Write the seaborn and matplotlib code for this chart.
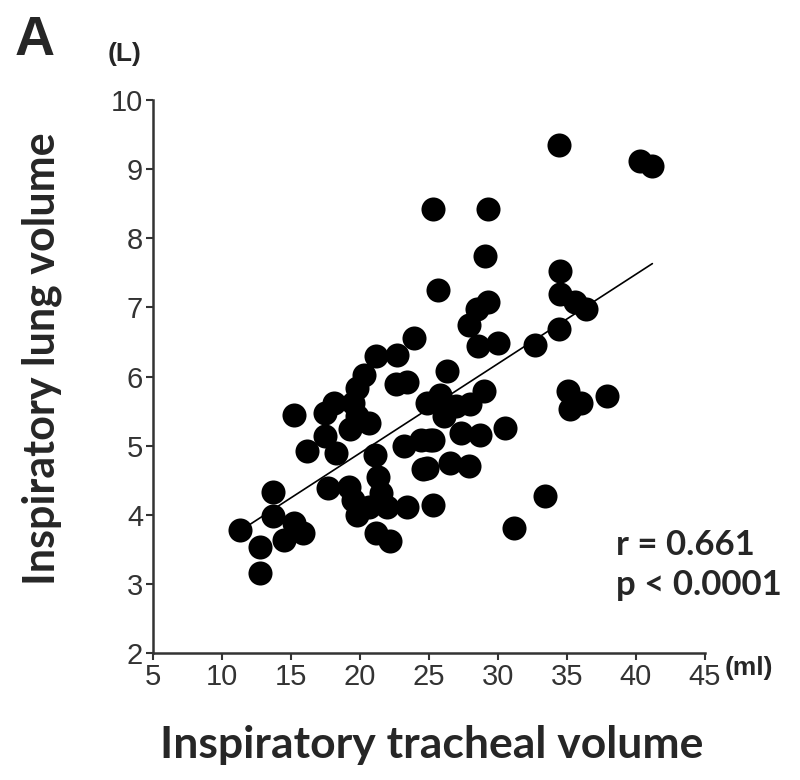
import numpy as np
import pandas as pd
import matplotlib
matplotlib.use('Agg')
import matplotlib.pyplot as plt
import seaborn as sns

# values
tracheal_ml = [11.3, 12.8, 12.8, 13.7, 13.7, 14.5, 15.2, 15.9, 15.2, 16.2,
               17.5, 18.1, 17.5, 18.3, 17.7, 19.2, 19.5, 19.8, 19.3, 19.8,
               20.7, 19.5, 19.8, 20.3, 21.2, 22.7, 23.9, 22.6, 23.4, 21.1,
               21.3, 21.5, 20.7, 22.0, 23.4, 21.2, 22.2, 23.2, 24.4, 25.3,
               24.9, 26.5, 27.9, 25.3, 24.9, 25.8, 26.1, 27.0, 28.0, 27.3,
               28.7, 30.5, 29.0, 26.3, 25.7, 25.3, 29.3, 29.1, 29.3, 28.5,
               27.9, 28.6, 30.0, 32.7, 34.4, 34.5, 34.5, 35.6, 36.4, 34.4,
               40.3, 41.2, 35.1, 36.0, 35.2, 37.9, 33.4, 31.2, 25.1, 24.6]
lung_l = [3.78, 3.16, 3.54, 4.33, 3.98, 3.64, 3.88, 3.74, 5.45, 4.92,
          5.48, 5.62, 5.14, 4.90, 4.39, 4.41, 4.22, 4.00, 5.24, 5.43,
          5.33, 5.62, 5.84, 6.03, 6.30, 6.31, 6.56, 5.89, 5.92, 4.86,
          4.55, 4.32, 4.12, 4.12, 4.12, 3.74, 3.62, 5.00, 5.09, 5.09,
          4.68, 4.75, 4.71, 4.15, 5.62, 5.74, 5.43, 5.57, 5.60, 5.19,
          5.16, 5.26, 5.79, 6.08, 7.25, 8.42, 8.42, 7.75, 7.08, 6.97,
          6.74, 6.44, 6.49, 6.45, 6.69, 7.52, 7.19, 7.08, 6.97, 9.35,
          9.12, 9.05, 5.79, 5.62, 5.53, 5.72, 4.27, 3.81, 5.09, 4.66]

x_ticks = [5, 10, 15, 20, 25, 30, 35, 40, 45]
y_ticks = [2, 3, 4, 5, 6, 7, 8, 9, 10]

df = pd.DataFrame({'tracheal': tracheal_ml, 'lung': lung_l})

sns.set_style('ticks')
plt.rcParams['font.family'] = ['Liberation Sans', 'DejaVu Sans']

fig = plt.figure(figsize=(8, 7.8), dpi=100)
ax = fig.add_axes([0.191, 0.1624, 0.690, 0.7096])

sns.regplot(data=df, x='tracheal', y='lung', ax=ax, ci=None,
            scatter_kws={'s': 300, 'color': 'black', 'alpha': 1, 'linewidths': 0},
            line_kws={'color': 'black', 'lw': 1.2})

ax.set_xlim(5, 45)
ax.set_ylim(2, 10)
ax.set_xticks(x_ticks)
ax.set_yticks(y_ticks)
tick_font = ['Liberation Sans Narrow', 'Liberation Sans', 'DejaVu Sans']
ax.set_xticklabels([str(t) for t in x_ticks], family=tick_font, fontsize=21, color='#333333')
ax.set_yticklabels([str(t) for t in y_ticks], family=tick_font, fontsize=21, color='#333333')
ax.tick_params(axis='both', length=5, width=1.5, color='#333333', pad=2)
ax.set_xlabel('')
ax.set_ylabel('')
sns.despine(ax=ax)
for s in ['left', 'bottom']:
    ax.spines[s].set_linewidth(1.8)
    ax.spines[s].set_color('#333333')

label_font = ['Lato', 'DejaVu Sans']
fig.text(0.54, 0.045, 'Inspiratory tracheal volume', family=label_font, fontweight='bold',
         fontsize=32, ha='center', va='center')
fig.text(0.052, 0.54, 'Inspiratory lung volume', family=label_font, fontweight='bold',
         fontsize=31, ha='center', va='center', rotation=90)

fig.text(0.043, 0.948, 'A', fontsize=40, fontweight='bold', ha='center', va='center')
fig.text(0.156, 0.931, '(L)', fontsize=19, fontweight='bold', ha='center', va='center')
fig.text(0.936, 0.143, '(ml)', fontsize=19, fontweight='bold', ha='center', va='center')

fig.text(0.77, 0.301, 'r = 0.661', family=label_font,
         fontweight='bold', fontsize=25, ha='left', va='center')
fig.text(0.77, 0.25, 'p < 0.0001', family=label_font,
         fontweight='bold', fontsize=25, ha='left', va='center')

fig.savefig('out.png', dpi=100)
